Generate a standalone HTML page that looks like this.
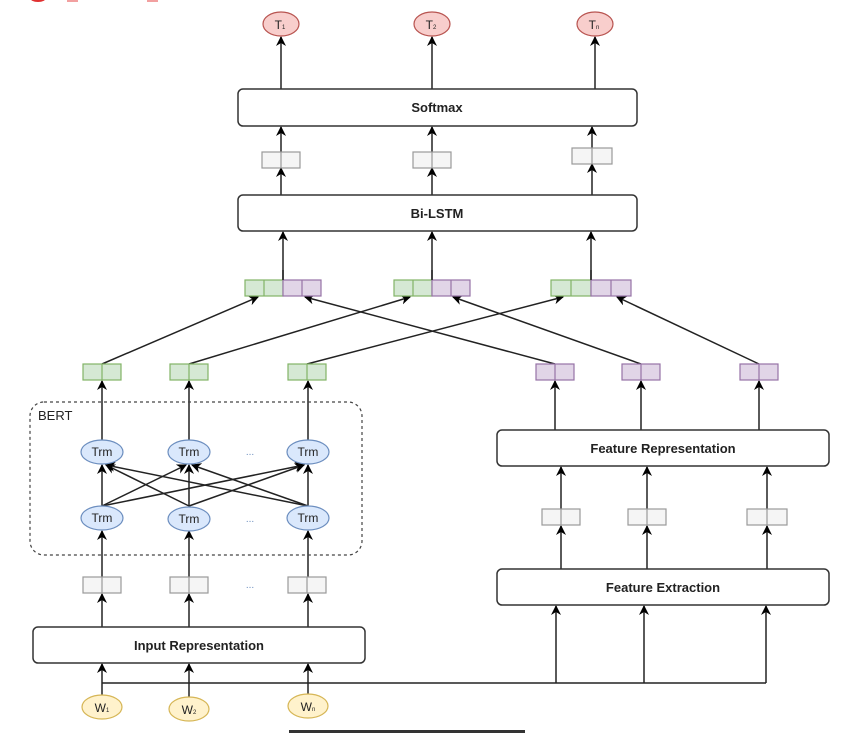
<!DOCTYPE html>
<html><head><meta charset="utf-8"><style>
html,body{margin:0;padding:0;background:#fff;}
svg{display:block;font-family:"Liberation Sans",sans-serif;}
</style></head><body>
<svg width="841" height="733" viewBox="0 0 841 733" xmlns="http://www.w3.org/2000/svg">
<defs>
<marker id="a" markerWidth="10" markerHeight="10" refX="9" refY="5" orient="auto" markerUnits="userSpaceOnUse">
<path d="M0,0 L10,5 L0,10 L3,5 z" fill="#000"/>
</marker>
</defs>
<rect x="0" y="0" width="841" height="733" fill="#fff"/>
<!-- top partial bits -->
<ellipse cx="38" cy="-2" rx="8" ry="4" fill="#e03030"/>
<rect x="67" y="0" width="11" height="2" fill="#f2a0a0"/>
<rect x="147" y="0" width="11" height="2" fill="#f2a0a0"/>

<g stroke="#222" stroke-width="1.5" fill="none" marker-end="url(#a)">
<!-- to T -->
<line x1="281" y1="89" x2="281" y2="37"/>
<line x1="432" y1="89" x2="432" y2="37"/>
<line x1="595" y1="89" x2="595" y2="37"/>
<!-- gray to softmax -->
<line x1="281" y1="152" x2="281" y2="127"/>
<line x1="432" y1="152" x2="432" y2="127"/>
<line x1="592" y1="148" x2="592" y2="127"/>
<!-- bilstm to gray -->
<line x1="281" y1="195" x2="281" y2="168"/>
<line x1="432" y1="195" x2="432" y2="168"/>
<line x1="592" y1="195" x2="592" y2="164"/>
<!-- concat to bilstm -->
<line x1="283" y1="280" x2="283" y2="232"/>
<line x1="432" y1="280" x2="432" y2="232"/>
<line x1="591" y1="280" x2="591" y2="232"/>
<!-- green to concat -->
<line x1="102" y1="364" x2="258" y2="297"/>
<line x1="189" y1="364" x2="410" y2="297"/>
<line x1="307" y1="364" x2="563" y2="297"/>
<!-- purple to concat -->
<line x1="555" y1="364" x2="305" y2="297"/>
<line x1="641" y1="364" x2="453" y2="297"/>
<line x1="759" y1="364" x2="617" y2="297"/>
<!-- trm to green -->
<line x1="102" y1="440" x2="102" y2="381"/>
<line x1="189" y1="440" x2="189" y2="381"/>
<line x1="308" y1="440" x2="308" y2="381"/>
<!-- FR to purple -->
<line x1="555" y1="430" x2="555" y2="381"/>
<line x1="641" y1="430" x2="641" y2="381"/>
<line x1="759" y1="430" x2="759" y2="381"/>
<!-- cross -->
<line x1="102" y1="506" x2="102" y2="465"/>
<line x1="102" y1="506" x2="186" y2="465"/>
<line x1="102" y1="506" x2="304" y2="465"/>
<line x1="189" y1="506" x2="106" y2="465"/>
<line x1="189" y1="506" x2="189" y2="465"/>
<line x1="189" y1="506" x2="304" y2="465"/>
<line x1="308" y1="506" x2="106" y2="465"/>
<line x1="308" y1="506" x2="192" y2="465"/>
<line x1="308" y1="506" x2="308" y2="465"/>
<!-- gray to trm -->
<line x1="102" y1="577" x2="102" y2="531"/>
<line x1="189" y1="577" x2="189" y2="531"/>
<line x1="308" y1="577" x2="308" y2="531"/>
<!-- input to gray -->
<line x1="102" y1="627" x2="102" y2="594"/>
<line x1="189" y1="627" x2="189" y2="594"/>
<line x1="308" y1="627" x2="308" y2="594"/>
<!-- W to input -->
<line x1="102" y1="695" x2="102" y2="664"/>
<line x1="189" y1="697" x2="189" y2="664"/>
<line x1="308" y1="694" x2="308" y2="664"/>
<!-- to FE -->
<line x1="556" y1="683" x2="556" y2="606"/>
<line x1="644" y1="683" x2="644" y2="606"/>
<line x1="766" y1="683" x2="766" y2="606"/>
<!-- FE to gray -->
<line x1="561" y1="569" x2="561" y2="526"/>
<line x1="647" y1="569" x2="647" y2="526"/>
<line x1="767" y1="569" x2="767" y2="526"/>
<!-- gray to FR -->
<line x1="561" y1="509" x2="561" y2="467"/>
<line x1="647" y1="509" x2="647" y2="467"/>
<line x1="767" y1="509" x2="767" y2="467"/>
</g>
<line x1="102" y1="683" x2="766" y2="683" stroke="#222" stroke-width="1.5"/>

<!-- T ellipses -->
<g fill="#f8cecc" stroke="#b85450" stroke-width="1.2">
<ellipse cx="281" cy="24" rx="18" ry="12"/>
<ellipse cx="432" cy="24" rx="18" ry="12"/>
<ellipse cx="595" cy="24" rx="18" ry="12"/>
</g>
<g font-size="12" fill="#222" text-anchor="middle">
<text x="280" y="29">T<tspan font-size="6">1</tspan></text>
<text x="431" y="29">T<tspan font-size="6">2</tspan></text>
<text x="594" y="29">T<tspan font-size="6">n</tspan></text>
</g>

<!-- big boxes -->
<g fill="#fff" stroke="#333" stroke-width="1.5">
<rect x="238" y="89" width="399" height="37" rx="5"/>
<rect x="238" y="195" width="399" height="36" rx="5"/>
<rect x="497" y="430" width="332" height="36" rx="5"/>
<rect x="497" y="569" width="332" height="36" rx="5"/>
<rect x="33" y="627" width="332" height="36" rx="5"/>
</g>
<g font-size="13" font-weight="bold" fill="#222" text-anchor="middle">
<text x="437" y="112">Softmax</text>
<text x="437" y="218">Bi-LSTM</text>
<text x="663" y="453">Feature Representation</text>
<text x="663" y="592">Feature Extraction</text>
<text x="199" y="650">Input Representation</text>
</g>

<!-- dashed BERT -->
<rect x="30" y="402" width="332" height="153" rx="14" fill="none" stroke="#444" stroke-width="1.2" stroke-dasharray="3,3"/>
<text x="38" y="420" font-size="13" fill="#222">BERT</text>

<!-- gray boxes -->
<g fill="#f5f5f5" stroke="#999" stroke-width="1.2">
<rect x="262" y="152" width="38" height="16"/><line x1="281" y1="152" x2="281" y2="168"/>
<rect x="413" y="152" width="38" height="16"/><line x1="432" y1="152" x2="432" y2="168"/>
<rect x="572" y="148" width="40" height="16"/><line x1="592" y1="148" x2="592" y2="164"/>
<rect x="83" y="577" width="38" height="16"/><line x1="102" y1="577" x2="102" y2="593"/>
<rect x="170" y="577" width="38" height="16"/><line x1="189" y1="577" x2="189" y2="593"/>
<rect x="288" y="577" width="38" height="16"/><line x1="307" y1="577" x2="307" y2="593"/>
<rect x="542" y="509" width="38" height="16"/><line x1="561" y1="509" x2="561" y2="525"/>
<rect x="628" y="509" width="38" height="16"/><line x1="647" y1="509" x2="647" y2="525"/>
<rect x="747" y="509" width="40" height="16"/><line x1="767" y1="509" x2="767" y2="525"/>
</g>

<!-- green boxes -->
<g fill="#d5e8d4" stroke="#82b366" stroke-width="1.2">
<rect x="83" y="364" width="38" height="16"/><line x1="102" y1="364" x2="102" y2="380"/>
<rect x="170" y="364" width="38" height="16"/><line x1="189" y1="364" x2="189" y2="380"/>
<rect x="288" y="364" width="38" height="16"/><line x1="307" y1="364" x2="307" y2="380"/>
<rect x="245" y="280" width="38" height="16"/><line x1="264" y1="280" x2="264" y2="296"/>
<rect x="394" y="280" width="38" height="16"/><line x1="413" y1="280" x2="413" y2="296"/>
<rect x="551" y="280" width="40" height="16"/><line x1="571" y1="280" x2="571" y2="296"/>
</g>
<!-- purple boxes -->
<g fill="#e1d5e7" stroke="#9673a6" stroke-width="1.2">
<rect x="536" y="364" width="38" height="16"/><line x1="555" y1="364" x2="555" y2="380"/>
<rect x="622" y="364" width="38" height="16"/><line x1="641" y1="364" x2="641" y2="380"/>
<rect x="740" y="364" width="38" height="16"/><line x1="759" y1="364" x2="759" y2="380"/>
<rect x="283" y="280" width="38" height="16"/><line x1="302" y1="280" x2="302" y2="296"/>
<rect x="432" y="280" width="38" height="16"/><line x1="451" y1="280" x2="451" y2="296"/>
<rect x="591" y="280" width="40" height="16"/><line x1="611" y1="280" x2="611" y2="296"/>
</g>
<g stroke="#222" stroke-width="1.5">
<line x1="283" y1="280" x2="283" y2="270"/>
<line x1="432" y1="280" x2="432" y2="270"/>
<line x1="591" y1="280" x2="591" y2="270"/>
</g>

<!-- Trm -->
<g fill="#dae8fc" stroke="#6c8ebf" stroke-width="1.2">
<ellipse cx="102" cy="452" rx="21" ry="12"/>
<ellipse cx="189" cy="452" rx="21" ry="12"/>
<ellipse cx="308" cy="452" rx="21" ry="12"/>
<ellipse cx="102" cy="518" rx="21" ry="12"/>
<ellipse cx="189" cy="519" rx="21" ry="12"/>
<ellipse cx="308" cy="518" rx="21" ry="12"/>
</g>
<g font-size="12" fill="#222" text-anchor="middle">
<text x="102" y="456">Trm</text><text x="189" y="456">Trm</text><text x="308" y="456">Trm</text>
<text x="102" y="522">Trm</text><text x="189" y="523">Trm</text><text x="308" y="522">Trm</text>
</g>
<g font-size="10" fill="#6c8ebf" text-anchor="middle">
<text x="250" y="455">...</text><text x="250" y="522">...</text><text x="250" y="588">...</text>
</g>

<!-- W -->
<g fill="#fff2cc" stroke="#d6b656" stroke-width="1.2">
<ellipse cx="102" cy="707" rx="20" ry="12"/>
<ellipse cx="189" cy="709" rx="20" ry="12"/>
<ellipse cx="308" cy="706" rx="20" ry="12"/>
</g>
<g font-size="12" fill="#222" text-anchor="middle">
<text x="102" y="712">W<tspan font-size="6">1</tspan></text>
<text x="189" y="714">W<tspan font-size="6">2</tspan></text>
<text x="308" y="711">W<tspan font-size="6">n</tspan></text>
</g>

<rect x="289" y="730" width="236" height="3" fill="#333"/>
</svg>
</body></html>
